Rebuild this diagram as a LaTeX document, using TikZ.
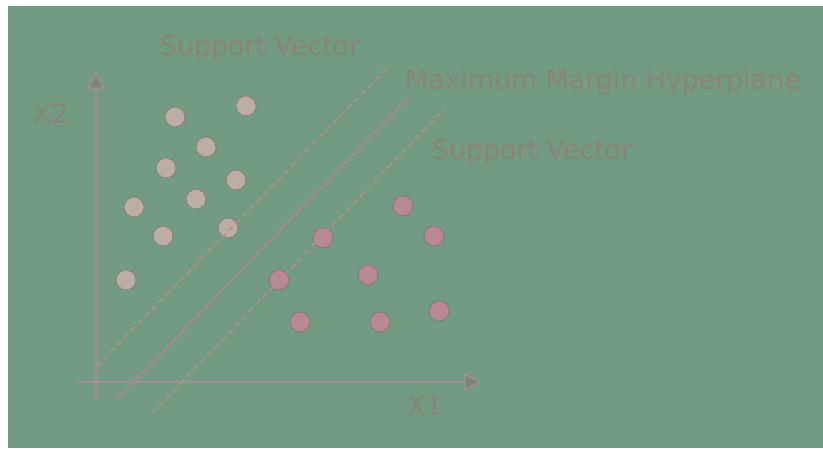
\documentclass[tikz,border=0pt]{standalone}
\usepackage{fontspec}
\setmainfont{DejaVu Sans}
\usetikzlibrary{arrows.meta}
\definecolor{bggreen}{RGB}{115,155,131}
\definecolor{labelcol}{RGB}{138,132,116}
\definecolor{lightdot}{RGB}{188,174,164}
\definecolor{pinkdot}{RGB}{184,136,148}
\definecolor{dotrim}{RGB}{118,108,104}
\definecolor{axiscol}{RGB}{162,140,150}
\definecolor{headcol}{RGB}{122,136,112}
\definecolor{planecol}{RGB}{165,140,142}
\definecolor{margincol}{RGB}{176,146,138}
\tikzset{
  lbl/.style={anchor=base west, inner sep=0pt, text=labelcol, font=\fontsize{26.8}{30}\selectfont},
  classA/.style={circle, minimum size=20pt, inner sep=0pt, fill=lightdot, draw=dotrim, densely dotted, line width=1pt},
  classB/.style={circle, minimum size=20pt, inner sep=0pt, fill=pinkdot, draw=dotrim, densely dotted, line width=1pt},
  axisline/.style={draw=axiscol, line width=1.6pt, -{Triangle[width=18pt,length=17pt,fill=headcol]}},
  plane/.style={draw=planecol, line width=1.8pt},
  margin/.style={draw=margincol, line width=1.6pt, dash pattern=on 6pt off 4pt}
}
\begin{document}
\begin{tikzpicture}[x=1pt,y=-1pt]
\useasboundingbox (0,0) rectangle (823,448);
\fill[white] (0,0) rectangle (823,448);
\fill[bggreen] (8,6) rectangle (823,448);

% coordinate axes
\coordinate (yb) at (96,400);
\coordinate (yt) at (96,72);
\coordinate (xl) at (76,382);
\coordinate (xr) at (481,382);
\draw[axisline] (yb) -- (yt);
\draw[axisline] (xl) -- (xr);

% separating hyperplane and the two margins
\coordinate (hp1) at (116,400);
\coordinate (hp2) at (407,99);
\coordinate (mu1) at (96,367);
\coordinate (mu2) at (387,68);
\coordinate (ml1) at (152,413);
\coordinate (ml2) at (445,108);
\draw[plane] (hp1) -- (hp2);

% first class
\node[classA] (a1) at (175,117) {};
\node[classA] (a2) at (246,106) {};
\node[classA] (a3) at (206,147) {};
\node[classA] (a4) at (166,168) {};
\node[classA] (a5) at (236,180) {};
\node[classA] (a6) at (196,199) {};
\node[classA] (a7) at (134,207) {};
\node[classA] (a8) at (163,236) {};
\node[classA] (a9) at (228,228) {};
\node[classA] (a10) at (126,280) {};

% second class
\node[classB] (b1) at (403,206) {};
\node[classB] (b2) at (434,236) {};
\node[classB] (b3) at (323,238) {};
\node[classB] (b4) at (368,275) {};
\node[classB] (b5) at (279,280) {};
\node[classB] (b6) at (439,311) {};
\node[classB] (b7) at (300,322) {};
\node[classB] (b8) at (380,322) {};

\draw[margin] (mu1) -- (mu2);
\draw[margin] (ml1) -- (ml2);

% labels
\node[lbl] (sv1) at (160,55) {Support Vector};
\node[lbl] (mmh) at (405,89) {Maximum Margin Hyperplane};
\node[lbl] (sv2) at (432,159) {Support Vector};
\node[lbl] (x2) at (33,123) {X2};
\node[lbl] (x1) at (407,415) {X1};
\end{tikzpicture}
\end{document}
